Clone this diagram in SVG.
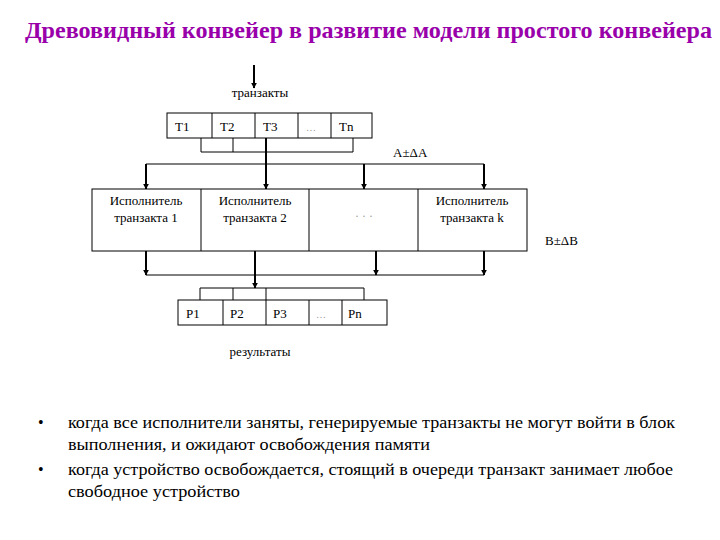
<svg xmlns="http://www.w3.org/2000/svg" width="720" height="540" viewBox="0 0 720 540">
<style>
text{font-family:"Liberation Serif","Times New Roman",serif;fill:#000}
.ln{stroke:#000;stroke-width:1;fill:none}
.tk{stroke:#000;stroke-width:2;fill:none}
.box{fill:#fff;stroke:#000;stroke-width:1}
.title{font-weight:bold;font-size:23px;fill:#9900aa}
.s{font-size:13px}
.b{font-size:16px}
.g{fill:#999}
</style>
<defs>
<marker id="ah" viewBox="0 0 10 10" refX="9" refY="5" markerWidth="6" markerHeight="6" orient="auto" markerUnits="userSpaceOnUse">
<path d="M0,0 L10,5 L0,10 z" fill="#000"/>
</marker>
</defs>
<rect width="720" height="540" fill="#fff"/>
<g id="title"><text class="title" x="25" y="38" textLength="687" lengthAdjust="spacingAndGlyphs">Древовидный конвейер в развитие модели простого конвейера</text></g>

<g id="connectors">
<polyline class="ln" points="201,138 201,152 353,152 353,138"/>
<line class="ln" x1="233" y1="138" x2="233" y2="152"/>
<line class="ln" x1="146" y1="164" x2="484" y2="164"/>
<line class="ln" x1="146" y1="275" x2="484" y2="275"/>
<polyline class="ln" points="200,300 200,288 364,288 364,300"/>
<line class="ln" x1="233" y1="288" x2="233" y2="300"/>
<line class="ln" x1="266" y1="288" x2="266" y2="300"/>
<line class="tk" x1="254" y1="65" x2="254" y2="88" marker-end="url(#ah)"/>
<line class="tk" x1="266" y1="138" x2="266" y2="189" marker-end="url(#ah)"/>
<line class="tk" x1="146" y1="164" x2="146" y2="189" marker-end="url(#ah)"/>
<line class="tk" x1="364" y1="164" x2="364" y2="189" marker-end="url(#ah)"/>
<line class="tk" x1="484" y1="164" x2="484" y2="189" marker-end="url(#ah)"/>
<line class="tk" x1="146" y1="251" x2="146" y2="275" marker-end="url(#ah)"/>
<line class="tk" x1="376" y1="251" x2="376" y2="275" marker-end="url(#ah)"/>
<line class="tk" x1="484" y1="251" x2="484" y2="275" marker-end="url(#ah)"/>
<line class="tk" x1="255" y1="251" x2="255" y2="288" marker-end="url(#ah)"/>
</g>

<g id="label-tranzakty"><text class="s" x="260" y="97" text-anchor="middle">транзакты</text></g>

<g id="t-row">
<rect class="box" x="167" y="113" width="205" height="25"/>
<line class="ln" x1="212" y1="113" x2="212" y2="138"/>
<line class="ln" x1="255" y1="113" x2="255" y2="138"/>
<line class="ln" x1="298" y1="113" x2="298" y2="138"/>
<line class="ln" x1="331" y1="113" x2="331" y2="138"/>
<text class="s" x="175" y="131">T1</text>
<text class="s" x="220" y="131">T2</text>
<text class="s" x="263" y="131">T3</text>
<text class="g" font-size="10" x="306" y="131">…</text>
<text class="s" x="339" y="131">Tn</text>
</g>

<g id="label-a"><text class="s" x="393" y="157">A±ΔA</text></g>

<g id="exec-row">
<rect class="box" x="92" y="189" width="435" height="62"/>
<line class="ln" x1="201" y1="189" x2="201" y2="251"/>
<line class="ln" x1="309" y1="189" x2="309" y2="251"/>
<line class="ln" x1="418" y1="189" x2="418" y2="251"/>
</g>
<g id="exec-1">
<text class="s" x="146" y="205" text-anchor="middle">Исполнитель</text>
<text class="s" x="146" y="222" text-anchor="middle">транзакта 1</text>
</g>
<g id="exec-2">
<text class="s" x="255" y="205" text-anchor="middle">Исполнитель</text>
<text class="s" x="255" y="222" text-anchor="middle">транзакта 2</text>
</g>
<g id="exec-dots"><text class="g" font-size="12" x="364" y="220" text-anchor="middle">· · ·</text></g>
<g id="exec-k">
<text class="s" x="472" y="205" text-anchor="middle">Исполнитель</text>
<text class="s" x="472" y="222" text-anchor="middle">транзакта k</text>
</g>

<g id="label-b"><text class="s" x="545" y="245">B±ΔB</text></g>

<g id="p-row">
<rect class="box" x="178" y="300" width="209" height="25"/>
<line class="ln" x1="223" y1="300" x2="223" y2="325"/>
<line class="ln" x1="266" y1="300" x2="266" y2="325"/>
<line class="ln" x1="309" y1="300" x2="309" y2="325"/>
<line class="ln" x1="342" y1="300" x2="342" y2="325"/>
<text class="s" x="186" y="318">P1</text>
<text class="s" x="230" y="318">P2</text>
<text class="s" x="273" y="318">P3</text>
<text class="g" font-size="10" x="316" y="318">…</text>
<text class="s" x="348" y="318">Pn</text>
</g>

<g id="label-rez"><text class="s" x="260" y="356" text-anchor="middle">результаты</text></g>

<g id="bullets">
<text class="b" x="38" y="428">•</text>
<text class="b" x="68" y="428" textLength="607" lengthAdjust="spacingAndGlyphs">когда все исполнители заняты, генерируемые транзакты не могут войти в блок</text>
<text class="b" x="68" y="450" textLength="362" lengthAdjust="spacingAndGlyphs">выполнения, и ожидают освобождения памяти</text>
<text class="b" x="38" y="475">•</text>
<text class="b" x="68" y="475" textLength="605" lengthAdjust="spacingAndGlyphs">когда устройство освобождается, стоящий в очереди транзакт занимает любое</text>
<text class="b" x="68" y="497" textLength="172" lengthAdjust="spacingAndGlyphs">свободное устройство</text>
</g>
</svg>
